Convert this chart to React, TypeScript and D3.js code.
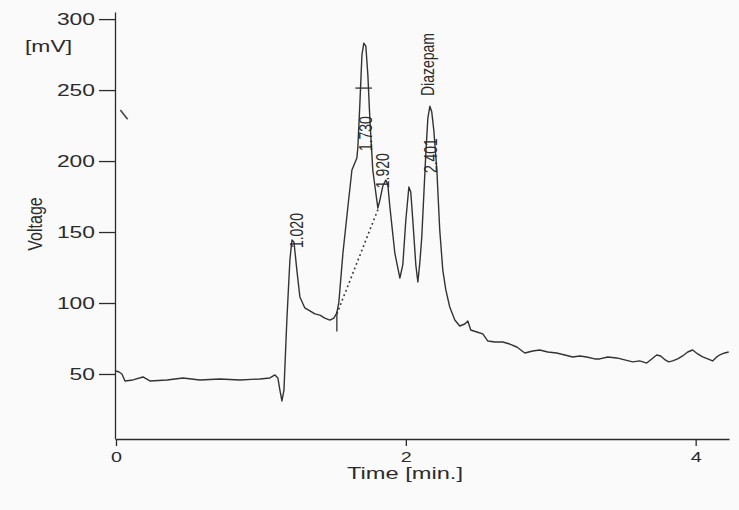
import React, { useEffect, useRef } from "react";
import * as d3 from "d3";

// Chromatogram trace (time in min, voltage in mV)
const times = [
  0, 0.021, 0.041, 0.062, 0.117, 0.186, 0.234, 0.352, 0.462, 0.579, 0.717, 0.855, 0.993, 1.062, 1.097, 1.117,
  1.131, 1.145, 1.159, 1.179, 1.2, 1.214, 1.228, 1.248, 1.269, 1.303, 1.338, 1.372, 1.407, 1.441, 1.476, 1.503,
  1.524, 1.538, 1.566, 1.6, 1.628, 1.648, 1.662, 1.669, 1.683, 1.697, 1.71, 1.724, 1.738, 1.752, 1.772, 1.793,
  1.807, 1.821, 1.841, 1.862, 1.876, 1.89, 1.924, 1.959, 1.979, 2.0, 2.021, 2.034, 2.048, 2.069, 2.083, 2.097,
  2.11, 2.138, 2.152, 2.166, 2.179, 2.193, 2.214, 2.234, 2.255, 2.276, 2.303, 2.338, 2.372, 2.407, 2.428, 2.448,
  2.49, 2.531, 2.566, 2.614, 2.669, 2.717, 2.766, 2.821, 2.876, 2.924, 2.979, 3.041, 3.097, 3.152, 3.2, 3.248,
  3.303, 3.338, 3.393, 3.455, 3.51, 3.566, 3.614, 3.662, 3.697, 3.731, 3.759, 3.79, 3.814, 3.841, 3.876, 3.91,
  3.945, 3.979, 4.014, 4.048, 4.083, 4.117, 4.145, 4.166, 4.2, 4.228,
];
const volts = [
  52.1, 51.4, 50.0, 45.1, 45.8, 47.9, 45.1, 45.8, 47.2, 45.8, 46.5, 45.8, 46.5, 47.2, 49.3, 47.2,
  38.7, 31.0, 38.7, 88.0, 130.3, 144.4, 143.0, 123.2, 104.2, 96.5, 94.4, 92.3, 91.5, 89.4, 88.0, 89.4,
  93.0, 100.7, 135.2, 167.6, 193.7, 198.6, 202.1, 209.9, 240.8, 274.6, 283.1, 281.0, 260.6, 228.9, 193.7, 177.5,
  166.9, 172.5, 182.4, 186.6, 183.1, 167.6, 135.2, 117.6, 126.8, 158.5, 181.7, 178.2, 158.5, 126.8, 114.8, 128.9,
  146.5, 205.6, 230.3, 238.7, 234.5, 221.8, 193.7, 151.4, 123.2, 109.2, 97.2, 88.0, 83.8, 85.2, 87.3, 81.0,
  79.6, 78.2, 73.2, 72.5, 72.5, 71.1, 69.0, 64.8, 66.2, 66.9, 65.5, 64.8, 63.4, 62.0, 62.7, 62.0,
  60.6, 60.6, 62.0, 61.3, 59.9, 58.5, 59.2, 57.7, 60.6, 63.4, 62.7, 59.9, 58.5, 59.2, 60.6, 62.7,
  65.5, 66.9, 64.1, 62.0, 60.6, 59.2, 62.0, 63.4, 64.8, 65.5,
];

const yTicks = [50, 100, 150, 200, 250, 300];
const xTicks = [0, 2, 4];

// Peak annotations (label, anchor time, anchor voltage)
const peakNames = ["1.020", "1.730", "1.920", "2.401", "Diazepam"];
const peakT = [1.241, 1.717, 1.834, 2.166, 2.145];
const peakV = [138.7, 207.0, 180.9, 191.5, 245.8];

// Dotted drop/baseline segment and markers
const splitT = [1.524, 1.814];
const splitV = [92.3, 167.6];
const startMarkT = [1.524, 1.524];
const startMarkV = [94.0, 80.0];
const apexMarkT = [1.652, 1.766];
const apexMarkV = [251.4, 251.4];
const scanMarkT = [0.03, 0.08];
const scanMarkV = [236.0, 229.5];

const FONT = "'Liberation Sans', Arial, Helvetica, sans-serif";
const INK = "#2b2b2b";

export default function App() {
  const W = 739;
  const H = 510;
  const x = d3.scaleLinear().domain([0, 4.23]).range([116, 729]);
  const y = d3.scaleLinear().domain([4.2, 305]).range([439, 12]);

  const yAxisRef = useRef<SVGGElement>(null);
  const xAxisRef = useRef<SVGGElement>(null);

  useEffect(() => {
    if (yAxisRef.current) {
      const g = d3.select(yAxisRef.current);
      g.selectAll("*").remove();
      g.call(
        d3.axisLeft(y).tickValues(yTicks).tickFormat(d3.format("d") as any).tickSize(16).tickSizeOuter(0).tickPadding(4) as any
      );
      g.attr("font-family", FONT).attr("font-size", 17);
      g.selectAll("path, line").attr("stroke", INK).attr("stroke-width", 1.3);
      g.selectAll("text")
        .attr("fill", INK)
        .style("font-family", FONT)
        .style("font-size", "17px")
        .attr("textLength", (d: any) => String(d).length * 12.7)
        .attr("lengthAdjust", "spacingAndGlyphs");
    }
    if (xAxisRef.current) {
      const g = d3.select(xAxisRef.current);
      g.selectAll("*").remove();
      g.call(
        d3.axisBottom(x).tickValues(xTicks).tickFormat(d3.format("d") as any).tickSize(7).tickSizeOuter(0).tickPadding(3) as any
      );
      g.attr("font-family", FONT).attr("font-size", 14);
      g.selectAll("path, line").attr("stroke", INK).attr("stroke-width", 1.3);
      g.selectAll("text")
        .attr("fill", INK)
        .attr("dy", null)
        .attr("y", 22.5)
        .style("font-family", FONT)
        .style("font-size", "14px")
        .attr("textLength", (d: any) => String(d).length * 11)
        .attr("lengthAdjust", "spacingAndGlyphs");
    }
  }, []);

  const pts: [number, number][] = times.map((t, i) => [t, volts[i]]);
  const line = d3
    .line<[number, number]>()
    .x((d) => x(d[0]))
    .y((d) => y(d[1]))
    .curve(d3.curveLinear);

  const seg = (ts: number[], vs: number[]) => line(ts.map((t, i) => [t, vs[i]] as [number, number])) || "";

  return (
    <svg
      width={W}
      height={H}
      style={{ position: "absolute", left: 0, top: 0, background: "#fafafa" }}
    >
      <rect x={0} y={0} width={W} height={H} fill="#fafafa" />
      <g ref={yAxisRef} transform={`translate(${x(0) - 1},0)`} />
      <g ref={xAxisRef} transform={`translate(0,${y(4.2)})`} />

      <path d={line(pts) || ""} fill="none" stroke="#333" strokeWidth={1.4} strokeLinejoin="round" />
      <path d={seg(splitT, splitV)} fill="none" stroke="#333" strokeWidth={1.6} strokeDasharray="1.8,3" />
      <path d={seg(startMarkT, startMarkV)} fill="none" stroke="#333" strokeWidth={1.3} />
      <path d={seg(apexMarkT, apexMarkV)} fill="none" stroke="#333" strokeWidth={1.3} />
      <path d={seg(scanMarkT, scanMarkV)} fill="none" stroke="#444" strokeWidth={1.6} />

      {peakNames.map((name, i) => (
        <text
          key={name}
          transform={`translate(${x(peakT[i])},${y(peakV[i])}) rotate(-90) scale(1,1.3)`}
          fontFamily={FONT}
          fontSize={14}
          fill={INK}
          dominantBaseline="central"
          textAnchor="start"
        >
          {name}
        </text>
      ))}

      <text x={25} y={52} fontFamily={FONT} fontSize={16} fill={INK} textLength={47} lengthAdjust="spacingAndGlyphs">
        [mV]
      </text>
      <text
        transform={`translate(35,224) rotate(-90) scale(1,1.3)`}
        fontFamily={FONT}
        fontSize={16}
        fill={INK}
        textAnchor="middle"
        dominantBaseline="central"
      >
        Voltage
      </text>
      <text
        x={405}
        y={479}
        fontFamily={FONT}
        fontSize={16}
        fill={INK}
        textAnchor="middle"
        textLength={116}
        lengthAdjust="spacingAndGlyphs"
      >
        Time [min.]
      </text>
    </svg>
  );
}
